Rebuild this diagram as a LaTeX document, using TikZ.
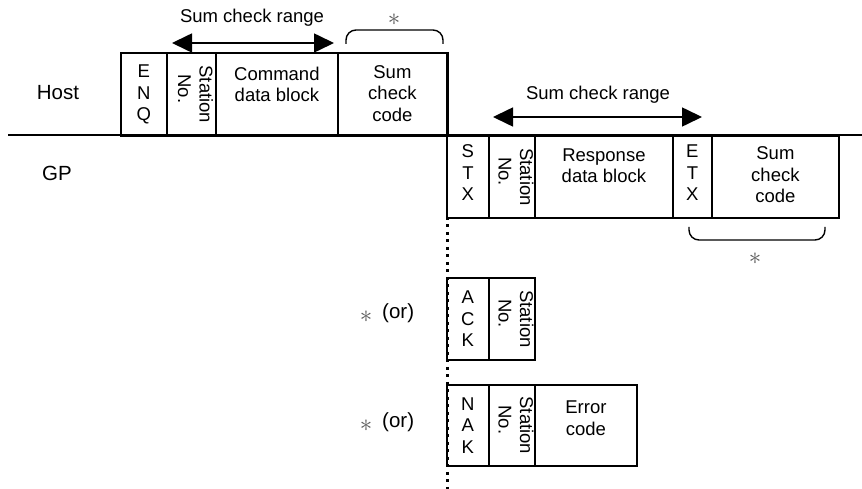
\documentclass[tikz,border=0pt]{standalone}
\usepackage{fontspec}
\setmainfont{Liberation Sans}
\usetikzlibrary{arrows.meta}
\begin{document}
\begin{tikzpicture}[x=1pt,y=-1pt,
  box/.style={draw, line width=1.8pt, inner sep=0pt, anchor=north west},
  txt/.style={font=\fontsize{18.5}{21.5}\selectfont, align=center, inner sep=0pt},
  big/.style={font=\fontsize{20.5}{24}\selectfont, inner sep=0pt},
  rot/.style={txt, rotate=-90, align=left},
  rng/.style={{Triangle[length=20pt,width=19pt]}-{Triangle[length=20pt,width=19pt]}, line width=1.6pt},
  bracket/.style={rounded corners=10pt, line width=1.4pt},
  star/.style={inner sep=0pt, text=black!65, font=\fontsize{24}{24}\selectfont},
  dotline/.style={line width=3pt, dash pattern=on 3pt off 4.5pt},
  axis/.style={line width=1.8pt}]
\useasboundingbox (0,0) rectangle (862,489);

% time line
\coordinate (L0) at (8,135);
\coordinate (L1) at (862,135);
\draw[axis] (L0) -- (L1);
\node[big] (host) at (58,93) {Host};
\node[big] (gp) at (57,173) {GP};

% Host frame
\node[box, minimum width=46pt, minimum height=83pt] (enq) at (120,52) {};
\node[box, minimum width=49pt, minimum height=83pt] (hstn) at (166,52) {};
\node[box, minimum width=122pt, minimum height=83pt] (cmd) at (215,52) {};
\node[box, minimum width=109pt, minimum height=83pt] (hsum) at (337,52) {};
\node[txt] (enqt) at (enq.center) {E\\N\\Q};
\node[rot] (hstnt) at ([xshift=4pt]hstn.center) {Station\\\hspace*{9pt}No.};
\node[txt] (cmdt) at ([yshift=10pt]cmd.center) {Command\\data block};
\node[txt] (hsumt) at ([yshift=1pt]hsum.center) {Sum\\check\\code};

% range arrow host
\coordinate (ha) at (172,43);
\coordinate (hb) at (334,43);
\draw[rng] (ha) -- (hb);
\node[txt] (hrange) at (252,18) {Sum check range};
\coordinate (hbr0) at (346,44);
\coordinate (hbr1) at (443,44);
\draw[bracket] (hbr0) -- (346,30) -- (443,30) -- (hbr1);
\node[star] (hstar) at (394,20) {$\ast$};

% vertical
\draw[axis] (hsum.north east) -- (hsum.north east |- L1);

% GP frame
\node[box, minimum width=42pt, minimum height=82pt] (stx) at (446,135) {};
\node[box, minimum width=46pt, minimum height=82pt] (gstn) at (488,135) {};
\node[box, minimum width=138pt, minimum height=82pt] (resp) at (534,135) {};
\node[box, minimum width=39pt, minimum height=82pt] (etx) at (672,135) {};
\node[box, minimum width=127pt, minimum height=82pt] (gsum) at (711,135) {};
\node[txt] (stxt) at ([yshift=4pt]stx.center) {S\\T\\X};
\node[rot] (gstnt) at ([xshift=4pt]gstn.center) {Station\\\hspace*{9pt}No.};
\node[txt] (respt) at ([yshift=11pt]resp.center) {Response\\data block};
\node[txt] (etxt) at ([yshift=4pt]etx.center) {E\\T\\X};
\node[txt] (gsumt) at ([yshift=2pt]gsum.center) {Sum\\check\\code};

\coordinate (ga) at (493,117);
\coordinate (gb) at (702,117);
\draw[rng] (ga) -- (gb);
\node[txt] (grange) at (598,95) {Sum check range};
\coordinate (gbr0) at (689,227);
\coordinate (gbr1) at (825,227);
\draw[bracket] (gbr0) -- (689,240) -- (825,240) -- (gbr1);
\node[star] (gstar) at (755,259) {$\ast$};

% ACK frame
\node[box, minimum width=42pt, minimum height=82pt] (ack) at (446,277) {};
\node[box, minimum width=46pt, minimum height=82pt] (astn) at (488,277) {};
\node[txt] (ackt) at (ack.center) {A\\C\\K};
\node[rot] (astnt) at ([xshift=4pt]astn.center) {Station\\\hspace*{9pt}No.};
\node[star] (astar) at (366,317) {$\ast$};
\node[big, anchor=west] (aor) at (382,313) {(or)};

% NAK frame
\node[box, minimum width=42pt, minimum height=81pt] (nak) at (446,384) {};
\node[box, minimum width=46pt, minimum height=81pt] (nstn) at (488,384) {};
\node[box, minimum width=102pt, minimum height=81pt] (err) at (534,384) {};
\node[txt] (nakt) at (nak.center) {N\\A\\K};
\node[rot] (nstnt) at ([xshift=4pt]nstn.center) {Station\\\hspace*{9pt}No.};
\node[txt] (errt) at ([xshift=0pt,yshift=7pt]err.center) {Error\\code};
\node[star] (nstar) at (366,426) {$\ast$};
\node[big, anchor=west] (nor) at (382,422) {(or)};

% dotted continuation
\coordinate (dend) at (447,489);
\draw[dotline] (stx.south west) ++(1pt,2pt) -- (dend);
\end{tikzpicture}
\end{document}
